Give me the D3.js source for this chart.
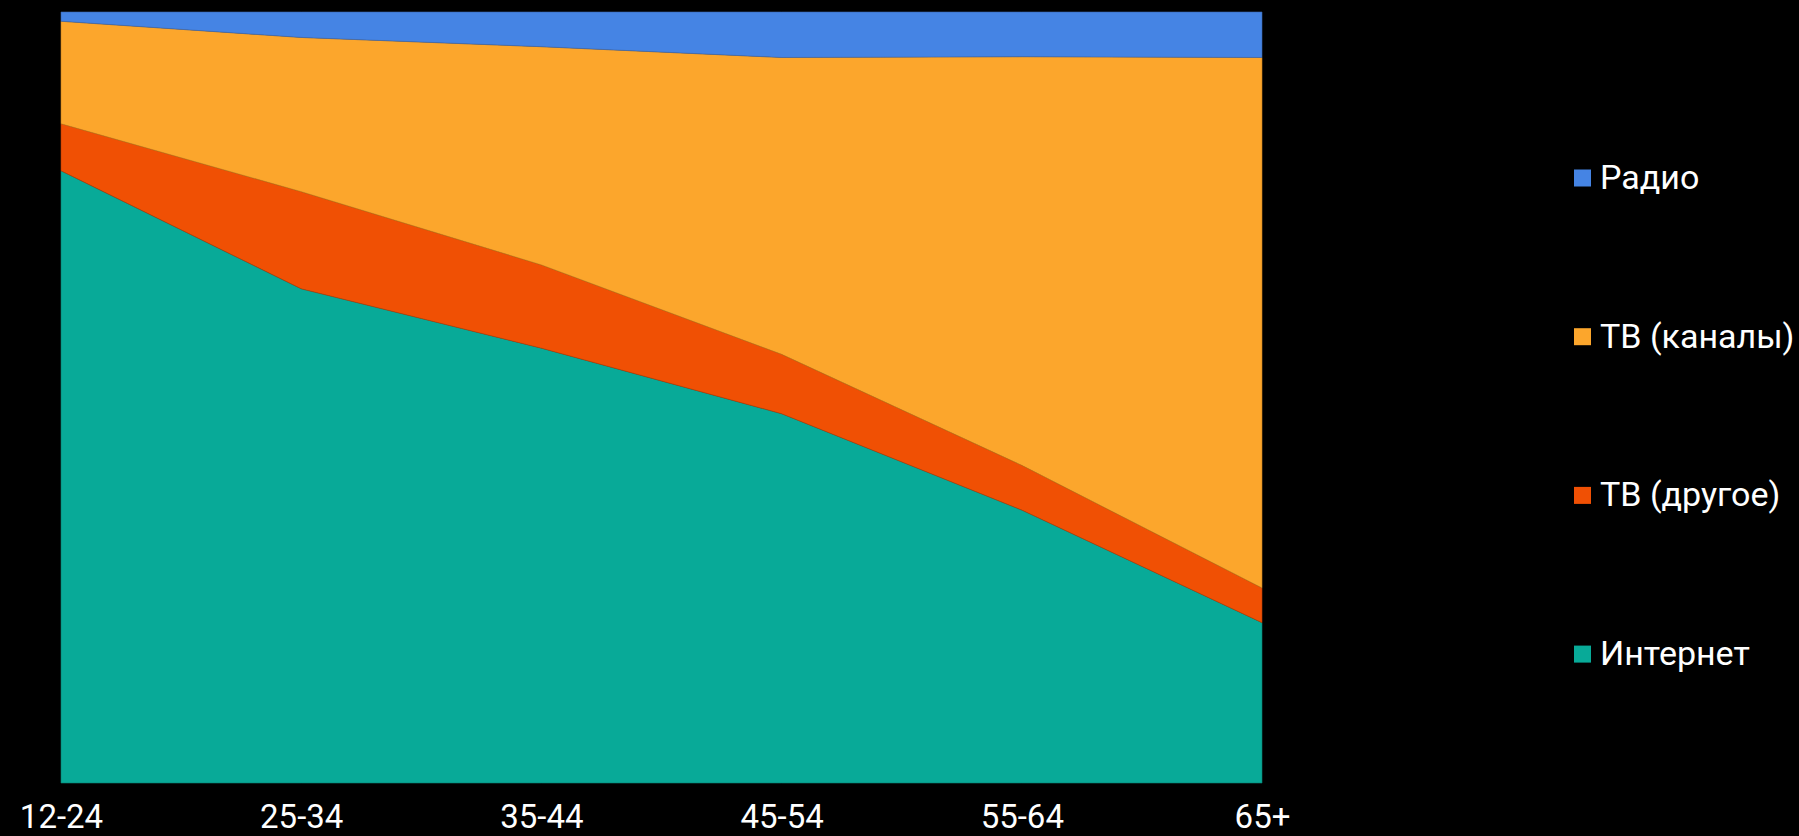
<!DOCTYPE html>
<html>
<head>
<meta charset="utf-8">
<script src="https://cdn.jsdelivr.net/npm/d3@7"></script>
<style>
  html, body { margin: 0; padding: 0; background: #000; }
  svg { display: block; }
  text { font-family: Roboto, "Noto Sans", sans-serif; fill: #fff; }
</style>
</head>
<body>
<script>
// Data (shares, %)
const categories = ["12-24", "25-34", "35-44", "45-54", "55-64", "65+"];
const internet   = [79.4, 64.1, 56.4, 47.9, 35.4, 20.8];
const tvOther    = [6.1, 12.6, 10.8, 7.7, 5.8, 4.5];
const tvChannels = [13.3, 20.0, 28.3, 38.5, 53.0, 68.8];
const radio      = [1.2, 3.3, 4.5, 5.9, 5.8, 5.9];

const seriesNames = ["Интернет", "ТВ (другое)", "ТВ (каналы)", "Радио"];
const seriesKeys = ["internet", "tvOther", "tvChannels", "radio"];
const colors = ["#08aa98", "#f05004", "#fca62c", "#4584e4"];
const strokes = ["#0a7f73", "#b83e06", "#c7801f", "#3a66ad"];

const W = 1799, H = 836;
const margin = {left: 61, right: 1799 - 1262, top: 12, bottom: 836 - 783};

const rows = categories.map((c, i) => ({
  cat: c, internet: internet[i], tvOther: tvOther[i], tvChannels: tvChannels[i], radio: radio[i]
}));

const svg = d3.select("body").append("svg").attr("width", W).attr("height", H);

const x = d3.scalePoint().domain(categories).range([margin.left, W - margin.right]);
const y = d3.scaleLinear().domain([0, 1]).range([H - margin.bottom, margin.top]);

const stack = d3.stack().keys(seriesKeys).offset(d3.stackOffsetExpand);
const layers = stack(rows);

const area = d3.area()
  .x(d => x(d.data.cat))
  .y0(d => y(d[0]))
  .y1(d => y(d[1]));

svg.append("g").selectAll("path")
  .data(layers)
  .join("path")
  .attr("d", area)
  .attr("fill", (d, i) => colors[i])
  .attr("stroke", (d, i) => strokes[i])
  .attr("stroke-width", 0.6)
  .attr("stroke-linejoin", "round");

// X axis labels
const xAxis = d3.axisBottom(x).tickSize(0).tickPadding(0);
const ax = svg.append("g")
  .attr("transform", `translate(0,${H - margin.bottom})`)
  .call(xAxis);
ax.select(".domain").remove();
ax.selectAll("text")
  .attr("dy", null)
  .attr("y", 45)
  .style("font-family", "Roboto, sans-serif")
  .style("font-size", "33px")
  .attr("fill", "#fff");

// Legend (top to bottom: Радио, ТВ (каналы), ТВ (другое), Интернет)
const legendOrder = [3, 2, 1, 0];
const legend = svg.append("g");
legendOrder.forEach((si, k) => {
  const cy = 178 + k * 158.7;
  legend.append("rect")
    .attr("x", 1574).attr("y", cy - 8.5)
    .attr("width", 17).attr("height", 17)
    .attr("fill", colors[si]);
  legend.append("text")
    .attr("x", 1600).attr("y", cy + 11)
    .style("font-size", "34px")
    .text(seriesNames[si]);
});
</script>
</body>
</html>
